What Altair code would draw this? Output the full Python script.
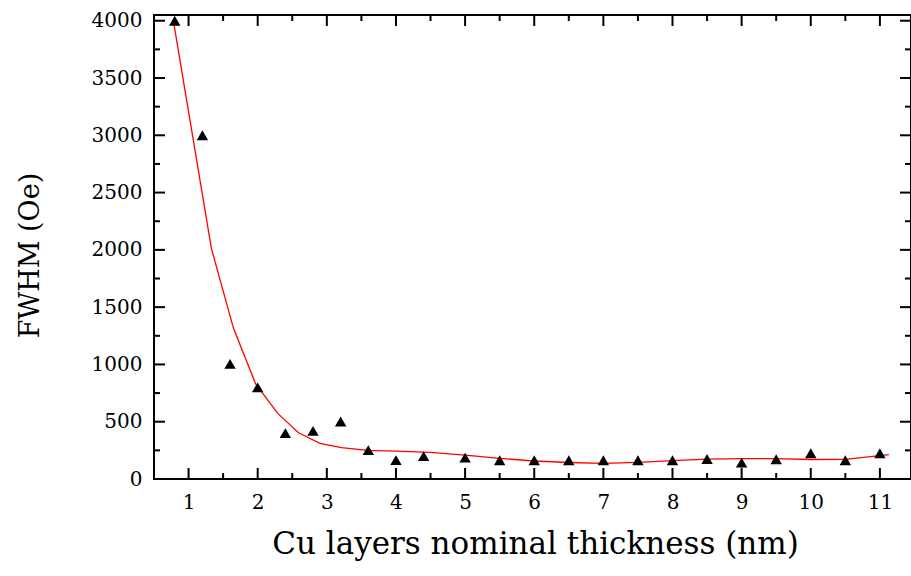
import altair as alt
import pandas as pd

# Measured points (triangles)
thickness = [0.8, 1.2, 1.6, 2.0, 2.4, 2.8, 3.2, 3.6, 4.0, 4.4, 5.0, 5.5, 6.0, 6.5,
             7.0, 7.5, 8.0, 8.5, 9.0, 9.5, 10.0, 10.5, 11.0]
fwhm = [4000, 3000, 1005, 800, 400, 420, 502, 252, 165, 200, 187, 164, 164, 164,
        164, 164, 164, 175, 143, 172, 225, 164, 225]

# Fitted curve (red line)
fit_x = [0.78, 1.33, 1.65, 1.97, 2.29, 2.59, 2.9, 3.21, 3.59, 4.0, 4.5, 5.0, 5.5,
         6.0, 6.5, 7.0, 7.5, 8.0, 8.5, 9.0, 9.5, 10.0, 10.5, 11.13]
fit_y = [4000, 2013, 1315, 830, 573, 404, 311, 273, 250, 244, 232, 209, 180,
         157, 144, 137, 145, 160, 174, 178, 178, 170, 172, 213]

x_major = [1, 2, 3, 4, 5, 6, 7, 8, 9, 10, 11]
x_minor = [1.5, 2.5, 3.5, 4.5, 5.5, 6.5, 7.5, 8.5, 9.5, 10.5]
y_major = [0, 500, 1000, 1500, 2000, 2500, 3000, 3500, 4000]
y_minor = [250, 750, 1250, 1750, 2250, 2750, 3250, 3750]

W, H = 757, 464
FONT = "DejaVu Serif"

xs = alt.Scale(domain=[0.5, 11.45], nice=False, zero=False)
ys = alt.Scale(domain=[0, 4050], nice=False, zero=False)

pts = pd.DataFrame({"x": thickness, "y": fwhm})
fit = pd.DataFrame({"x": fit_x, "y": fit_y})

line = alt.Chart(fit).mark_line(color="#ff0000", strokeWidth=1.3, clip=True).encode(
    x=alt.X("x:Q", scale=xs, title="Cu layers nominal thickness (nm)",
            axis=alt.Axis(values=x_major, titleX=381, titleY=74, titleBaseline="alphabetic",
                          titleAlign="center", labelPadding=13)),
    y=alt.Y("y:Q", scale=ys, title="FWHM (Oe)",
            axis=alt.Axis(values=y_major, titleAngle=-90, titleX=-116, titleY=240,
                          titleBaseline="alphabetic", titleAlign="center", labelPadding=12)),
)
points = alt.Chart(pts).mark_point(shape="triangle-up", filled=True, color="black",
                                   size=130, opacity=1).encode(
    x=alt.X("x:Q", scale=xs),
    y=alt.Y("y:Q", scale=ys),
)


def xticks(vals, length):
    df = pd.DataFrame({"v": vals})
    base = alt.Chart(df).mark_rule(color="black", strokeWidth=2)
    bottom = base.encode(x=alt.X("v:Q", scale=xs), y=alt.value(H), y2=alt.value(H - length))
    top = base.encode(x=alt.X("v:Q", scale=xs), y=alt.value(0), y2=alt.value(length))
    return [bottom, top]


def yticks(vals, length):
    df = pd.DataFrame({"v": vals})
    base = alt.Chart(df).mark_rule(color="black", strokeWidth=2)
    left = base.encode(y=alt.Y("v:Q", scale=ys), x=alt.value(0), x2=alt.value(length))
    right = base.encode(y=alt.Y("v:Q", scale=ys), x=alt.value(W), x2=alt.value(W - length))
    return [left, right]


layers = [line, points] + xticks(x_major, 11) + xticks(x_minor, 6) + yticks(y_major, 11) + yticks(y_minor, 6)

chart = alt.layer(*layers).properties(
    width=W, height=H,
    autosize=alt.AutoSizeParams(type="none"),
    padding={"left": 154, "top": 15, "right": 0, "bottom": 97},
    background="white",
).configure_view(
    stroke="black", strokeWidth=2
).configure_axis(
    grid=False, ticks=False, domain=False, format="d",
    labelFont=FONT, labelFontSize=20, labelColor="black",
    titleFont=FONT, titleFontWeight="normal", titleColor="black",
).configure_axisX(titleFontSize=31).configure_axisY(titleFontSize=27)

chart.save("out.html", embed_options={"renderer": "svg", "actions": False})
